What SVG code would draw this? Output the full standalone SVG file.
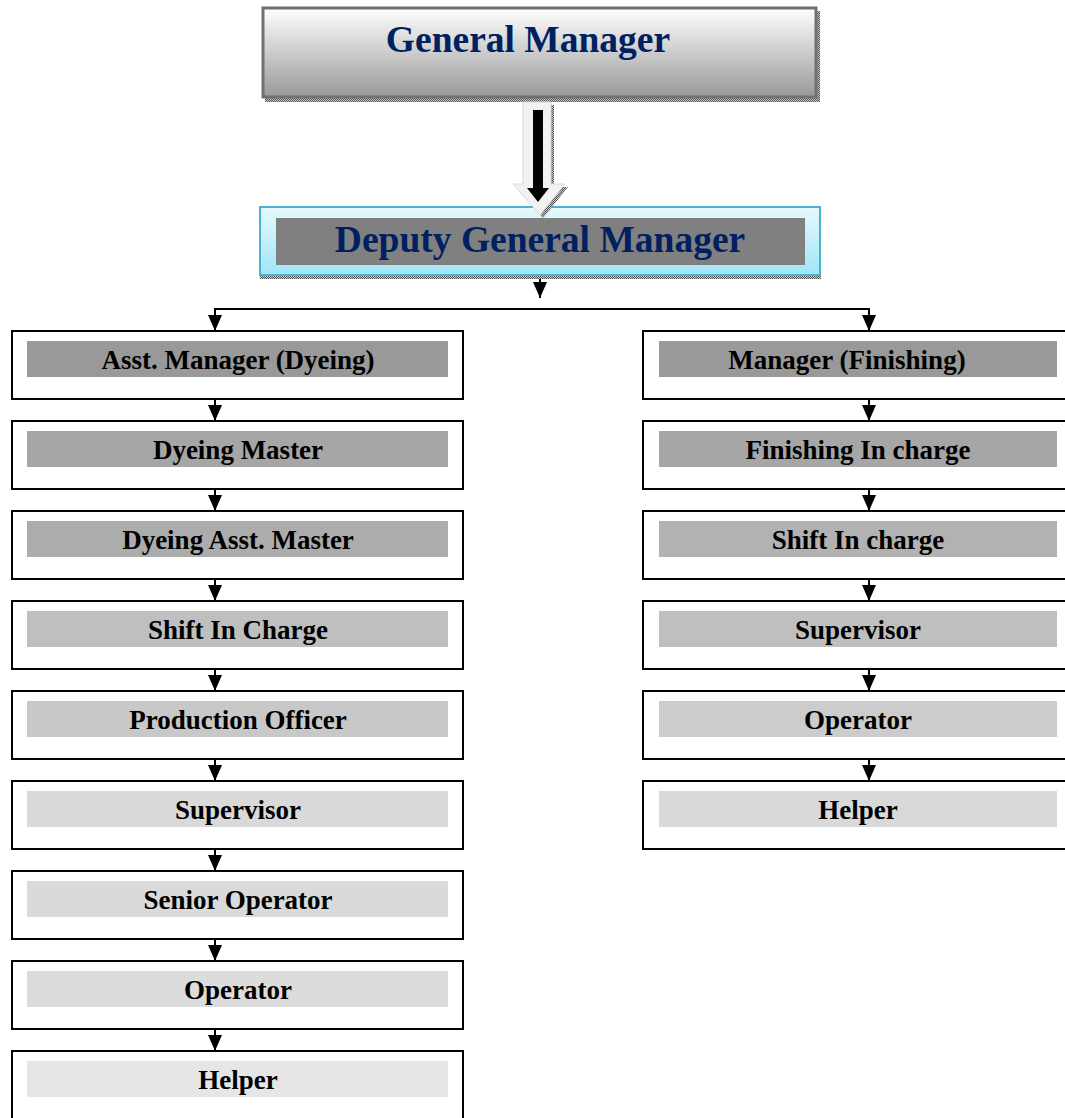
<svg xmlns="http://www.w3.org/2000/svg" width="1065" height="1118" viewBox="0 0 1065 1118">
  <defs>
    <linearGradient id="gmFill" x1="0" y1="0" x2="0" y2="1">
      <stop offset="0" stop-color="#ffffff"/>
      <stop offset="1" stop-color="#999999"/>
    </linearGradient>
    <linearGradient id="dgmFill" x1="0" y1="0" x2="0" y2="1">
      <stop offset="0" stop-color="#e6f9fd"/>
      <stop offset="1" stop-color="#9fe6f8"/>
    </linearGradient>
    <pattern id="dots" width="2" height="2" patternUnits="userSpaceOnUse">
      <rect width="2" height="2" fill="#c8c8c8"/>
      <rect width="1" height="1" fill="#555555"/>
      <rect x="1" y="1" width="1" height="1" fill="#555555"/>
    </pattern>
    <marker id="head" markerUnits="userSpaceOnUse" markerWidth="18" markerHeight="16" refX="16" refY="8" orient="auto-start-reverse" viewBox="0 0 18 16">
      <path d="M0,1 L16,8 L0,15 Z" fill="#000"/>
    </marker>
    <style>
      .box { fill: #ffffff; stroke: #000000; stroke-width: 2; }
      .lbl { font-family: "Liberation Serif", "Times New Roman", serif; font-weight: bold; font-size: 27px; fill: #000000; text-anchor: middle; }
      .big { font-family: "Liberation Serif", "Times New Roman", serif; font-weight: bold; font-size: 37.5px; fill: #002060; text-anchor: middle; }
      .wire { fill: none; stroke: #000000; stroke-width: 2; }
    </style>
  </defs>

  <rect width="1065" height="1118" fill="#ffffff"/>

  <!-- General Manager -->
  <g id="general-manager">
    <rect x="265" y="11" width="555" height="91" fill="url(#dots)"/>
    <rect x="263" y="8" width="553" height="89" fill="url(#gmFill)" stroke="#707070" stroke-width="3"/>
    <text class="big" x="528" y="52">General Manager</text>
  </g>

  <!-- Deputy General Manager -->
  <g id="deputy-general-manager">
    <rect x="260" y="275" width="561" height="4" fill="url(#dots)"/>
    <rect x="260" y="207" width="560" height="68" fill="url(#dgmFill)" stroke="#4bb4cc" stroke-width="2"/>
    <rect x="276" y="218" width="529" height="47" fill="#808080"/>
    <text class="big" x="540" y="252">Deputy General Manager</text>
  </g>

  <!-- Block arrow between the two top posts, drawn over the box edge -->
  <g id="block-arrow">
    <path d="M526,105 L554,105 L554,187 L568,187 L543,218 L518,187 L526,187 Z" fill="url(#dots)"/>
    <path d="M523,102 L551,102 L551,184 L565,184 L540,215 L513,184 L523,184 Z" fill="#f2f2f2" stroke="#d8d8d8" stroke-width="1"/>
    <path d="M533,110 L543,110 L543,188 L549,188 L538,202 L527,188 L533,188 Z" fill="#000000"/>
  </g>

  <!-- Connectors -->
  <g id="connectors">
    <path class="wire" d="M540,279 L540,298" marker-end="url(#head)"/>
    <path class="wire" d="M215,331 L215,309 L869,309 L869,331" marker-start="url(#head)" marker-end="url(#head)"/>
    <path class="wire" d="M215,399 L215,421" marker-end="url(#head)"/>
    <path class="wire" d="M215,489 L215,511" marker-end="url(#head)"/>
    <path class="wire" d="M215,579 L215,601" marker-end="url(#head)"/>
    <path class="wire" d="M215,669 L215,691" marker-end="url(#head)"/>
    <path class="wire" d="M215,759 L215,781" marker-end="url(#head)"/>
    <path class="wire" d="M215,849 L215,871" marker-end="url(#head)"/>
    <path class="wire" d="M215,939 L215,961" marker-end="url(#head)"/>
    <path class="wire" d="M215,1029 L215,1051" marker-end="url(#head)"/>
    <path class="wire" d="M869,399 L869,421" marker-end="url(#head)"/>
    <path class="wire" d="M869,489 L869,511" marker-end="url(#head)"/>
    <path class="wire" d="M869,579 L869,601" marker-end="url(#head)"/>
    <path class="wire" d="M869,669 L869,691" marker-end="url(#head)"/>
    <path class="wire" d="M869,759 L869,781" marker-end="url(#head)"/>
  </g>

  <!-- Dyeing column -->
  <g id="asst-manager-dyeing">
    <rect class="box" x="12" y="331" width="451" height="68"/>
    <rect x="27" y="341" width="421" height="36" fill="#999999"/>
    <text class="lbl" x="238" y="369">Asst. Manager (Dyeing)</text>
  </g>
  <g id="dyeing-master">
    <rect class="box" x="12" y="421" width="451" height="68"/>
    <rect x="27" y="431" width="421" height="36" fill="#a6a6a6"/>
    <text class="lbl" x="238" y="459">Dyeing Master</text>
  </g>
  <g id="dyeing-asst-master">
    <rect class="box" x="12" y="511" width="451" height="68"/>
    <rect x="27" y="521" width="421" height="36" fill="#acacac"/>
    <text class="lbl" x="238" y="549">Dyeing Asst. Master</text>
  </g>
  <g id="shift-in-charge-dyeing">
    <rect class="box" x="12" y="601" width="451" height="68"/>
    <rect x="27" y="611" width="421" height="36" fill="#bfbfbf"/>
    <text class="lbl" x="238" y="639">Shift In Charge</text>
  </g>
  <g id="production-officer">
    <rect class="box" x="12" y="691" width="451" height="68"/>
    <rect x="27" y="701" width="421" height="36" fill="#c8c8c8"/>
    <text class="lbl" x="238" y="729">Production Officer</text>
  </g>
  <g id="supervisor-dyeing">
    <rect class="box" x="12" y="781" width="451" height="68"/>
    <rect x="27" y="791" width="421" height="36" fill="#d9d9d9"/>
    <text class="lbl" x="238" y="819">Supervisor</text>
  </g>
  <g id="senior-operator">
    <rect class="box" x="12" y="871" width="451" height="68"/>
    <rect x="27" y="881" width="421" height="36" fill="#dadada"/>
    <text class="lbl" x="238" y="909">Senior Operator</text>
  </g>
  <g id="operator-dyeing">
    <rect class="box" x="12" y="961" width="451" height="68"/>
    <rect x="27" y="971" width="421" height="36" fill="#dcdcdc"/>
    <text class="lbl" x="238" y="999">Operator</text>
  </g>
  <g id="helper-dyeing">
    <rect class="box" x="12" y="1051" width="451" height="68"/>
    <rect x="27" y="1061" width="421" height="36" fill="#e6e6e6"/>
    <text class="lbl" x="238" y="1089">Helper</text>
  </g>

  <!-- Finishing column -->
  <g id="manager-finishing">
    <rect class="box" x="643" y="331" width="440" height="68"/>
    <rect x="659" y="341" width="398" height="36" fill="#999999"/>
    <text class="lbl" x="847" y="369">Manager (Finishing)</text>
  </g>
  <g id="finishing-in-charge">
    <rect class="box" x="643" y="421" width="440" height="68"/>
    <rect x="659" y="431" width="398" height="36" fill="#a6a6a6"/>
    <text class="lbl" x="858" y="459">Finishing In charge</text>
  </g>
  <g id="shift-in-charge-finishing">
    <rect class="box" x="643" y="511" width="440" height="68"/>
    <rect x="659" y="521" width="398" height="36" fill="#b2b2b2"/>
    <text class="lbl" x="858" y="549">Shift In charge</text>
  </g>
  <g id="supervisor-finishing">
    <rect class="box" x="643" y="601" width="440" height="68"/>
    <rect x="659" y="611" width="398" height="36" fill="#bfbfbf"/>
    <text class="lbl" x="858" y="639">Supervisor</text>
  </g>
  <g id="operator-finishing">
    <rect class="box" x="643" y="691" width="440" height="68"/>
    <rect x="659" y="701" width="398" height="36" fill="#cccccc"/>
    <text class="lbl" x="858" y="729">Operator</text>
  </g>
  <g id="helper-finishing">
    <rect class="box" x="643" y="781" width="440" height="68"/>
    <rect x="659" y="791" width="398" height="36" fill="#d9d9d9"/>
    <text class="lbl" x="858" y="819">Helper</text>
  </g>
</svg>
